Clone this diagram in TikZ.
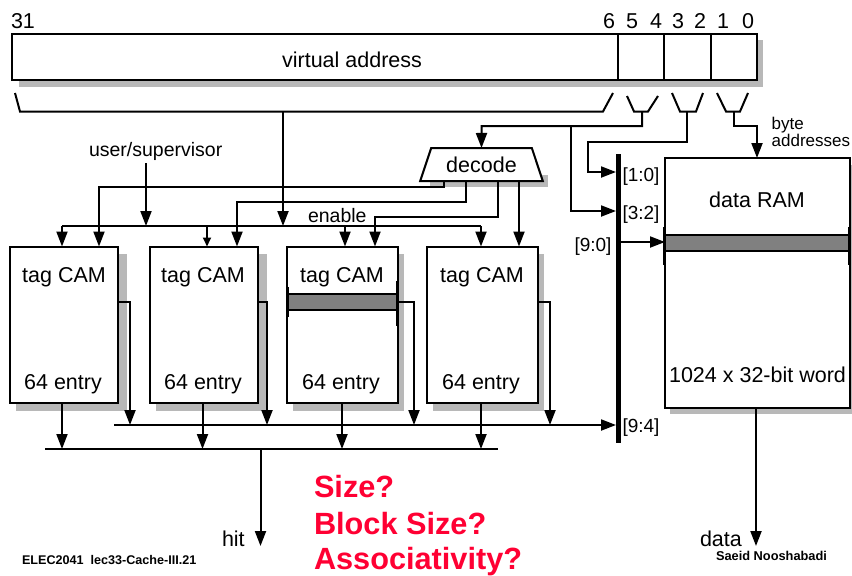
\documentclass[tikz,border=0pt]{standalone}
\usepackage{fontspec}
\setmainfont{Liberation Sans}
\usetikzlibrary{arrows.meta,shapes.geometric}
\definecolor{shade}{HTML}{B8B8B8}
\definecolor{rowgray}{HTML}{808080}
\definecolor{askred}{HTML}{FF0033}
\tikzset{
  wire/.style={line width=2pt,line join=miter},
  arr/.style={wire,-{Triangle[length=15pt,width=11pt]}},
  sarr/.style={wire,-{Triangle[length=9pt,width=8pt]}},
  box/.style={draw,line width=2pt,fill=white,rectangle,anchor=north west,inner sep=0pt,outer sep=0pt},
  camshape/.style={box,minimum width=108pt,minimum height=156.5pt},
  shadow/.style={fill=shade,draw=none},
  row/.style={draw,line width=2pt,fill=rowgray},
  tick/.style={line width=3pt},
  txt/.style={inner sep=0pt,outer sep=0pt,anchor=base,font=\fontsize{21.5}{24}\selectfont},
  lab/.style={inner sep=0pt,outer sep=0pt,anchor=base west,font=\fontsize{19.5}{24}\selectfont},
  brk/.style={inner sep=0pt,outer sep=0pt,anchor=base west,font=\fontsize{19}{22}\selectfont},
  foot/.style={inner sep=0pt,outer sep=0pt,anchor=base west,font=\bfseries\fontsize{12.6}{14}\selectfont},
  ask/.style={inner sep=0pt,outer sep=0pt,anchor=base west,text=askred,font=\bfseries\fontsize{30.7}{34}\selectfont},
}
\begin{document}
\begin{tikzpicture}[x=1pt,y=-1pt]
\path[use as bounding box] (0,0) rectangle (852,576);
% shadows
\fill[shadow] (19,40) rectangle (763,87);
\foreach \xa in {10,150,287,427}{
  \fill[shadow] (\xa+6,254) rectangle (\xa+116.5,411);
}
\fill[shadow] (670,165) rectangle (857,414);
% virtual address register
\node[box,minimum width=745pt,minimum height=46pt] (va) at (12,34) {};
\node[txt] (vatext) at (352,67) {virtual address};
\coordinate (d6t) at (618,34); \coordinate (d6b) at (618,80);
\coordinate (d4t) at (664,34); \coordinate (d4b) at (664,80);
\coordinate (d2t) at (711,34); \coordinate (d2b) at (711,80);
\draw[wire] (d6t)--(d6b); \draw[wire] (d4t)--(d4b); \draw[wire] (d2t)--(d2b);
\node[txt,anchor=base west] (b31) at (11,28) {31};
\node[txt] (b6) at (609,28) {6};
\node[txt] (b5) at (632,28) {5};
\node[txt] (b4) at (656,28) {4};
\node[txt] (b3) at (678,28) {3};
\node[txt] (b2) at (700,28) {2};
\node[txt] (b1) at (723,28) {1};
\node[txt] (b0) at (748,28) {0};
% field brackets
\draw[wire] (15,93)--(20,111.5)--(603,111.5)--(613,93);
\draw[wire] (627,96)--(634,111.5)--(648,111.5)--(658,96);
\draw[wire] (672,93)--(680,111.5)--(696,111.5)--(703,93);
\draw[wire] (717,93)--(726,111.5)--(740,111.5)--(748,93);
\coordinate (tagstem) at (283,111.5);
\coordinate (idxstem) at (642,111.5);
\coordinate (selstem) at (687,111.5);
\coordinate (bytestem) at (734,111.5);
% decode
\fill[shadow] (430,175) rectangle (548,187);
\node[draw,line width=2pt,fill=white,trapezium,trapezium stretches=true,trapezium angle=64,
  minimum width=123pt,minimum height=33pt,inner sep=0pt,outer sep=0pt,
  font=\fontsize{21.5}{24}\selectfont] (dec) at (481.5,164.5) {\raisebox{-1pt}{decode}};
% tag CAMs
\node[camshape] (cam1) at (10,246.5) {};
\node[camshape] (cam2) at (150,246.5) {};
\node[camshape,minimum width=111pt] (cam3) at (287,246.5) {};
\node[camshape,minimum width=111pt] (cam4) at (427,246.5) {};
\node[txt] (tc1) at (64,282) {tag CAM};
\node[txt] (tc2) at (203,282) {tag CAM};
\node[txt] (tc3) at (342,282) {tag CAM};
\node[txt] (tc4) at (482,282) {tag CAM};
\node[txt] (en1) at (63,389) {64 entry};
\node[txt] (en2) at (203,389) {64 entry};
\node[txt] (en3) at (341,389) {64 entry};
\node[txt] (en4) at (481,389) {64 entry};
\draw[row] (287,294) rectangle (398,310);
\draw[tick] (287,287)--(287,317);
\draw[tick] (397.5,281)--(397.5,326);
% data RAM
\node[box,minimum width=185pt,minimum height=249.5pt] (ram) at (665,158) {};
\node[txt] (ramt) at (757,207) {data RAM};
\node[txt] (ramw) at (757.5,382) {1024 x 32-bit word};
\draw[row] (665,235) rectangle (850,251);
\draw[tick] (664.5,227)--(664.5,265);
\draw[tick] (849.5,227)--(849.5,265);
% bus
\fill (616,154) rectangle (621,443);
\coordinate (bus10) at (616,172);
\coordinate (bus32) at (616,211);
\coordinate (bus90) at (621,242);
\coordinate (bus94) at (616,425);
% address wires
\draw[arr] (idxstem)--(642,126)--(481.5,126)--(dec.north);
\coordinate (j1) at (571,126);
\draw[arr] (j1)--(571,211)--(bus32);
\draw[arr] (selstem)--(687,142)--(588,142)--(588,172)--(bus10);
\draw[arr] (bytestem)--(734,126)--(757,126)--(757,158);
\coordinate (ramin) at (665,242);
\draw[arr] (bus90)--(ramin);
% enable bus
\coordinate (enL) at (62,226); \coordinate (enR) at (481,226);
\draw[wire] (enL)--(enR);
\draw[arr] (tagstem)--(283,226);
\coordinate (us) at (146,163);
\draw[arr] (us)--(146,226);
\draw[arr] (enL)--(62,246.5);
\draw[sarr] (207,226)--(207,246.5);
\draw[arr] (345,226)--(345,246.5);
\draw[arr] (enR)--(481,246.5);
% decode outputs
\coordinate (o1) at (444,181); \coordinate (o2) at (466,181);
\coordinate (o3) at (498,181); \coordinate (o4) at (519,181);
\draw[arr] (o1)--(444,187)--(99,187)--(99,246.5);
\draw[arr] (o2)--(466,202)--(237,202)--(237,246.5);
\draw[arr] (o3)--(498,217)--(375,217)--(375,246.5);
\draw[arr] (o4)--(519,246.5);
% tag match bus
\coordinate (mL) at (114,425);
\draw[arr] (mL)--(bus94);
\draw[arr] (118,302)--(130,302)--(130,425);
\draw[arr] (258,302)--(267,302)--(267,425);
\draw[arr] (398,302)--(414,302)--(414,425);
\draw[arr] (538,302)--(550,302)--(550,425);
% hit bus
\coordinate (hL) at (45,449); \coordinate (hR) at (498,449);
\draw[wire] (hL)--(hR);
\draw[arr] (62,403)--(62,449);
\draw[arr] (202.5,403)--(202.5,449);
\draw[arr] (342,403)--(342,449);
\draw[arr] (481,403)--(481,449);
\coordinate (hitend) at (260.5,546);
\draw[arr] (260.5,449)--(hitend);
\coordinate (dataend) at (756,546);
\draw[arr] (756,407.5)--(dataend);
% labels
\node[lab] (usr) at (89,156) {user/supervisor};
\node[lab] (enb) at (308,222) {enable};
\node[inner sep=0pt,anchor=base west,font=\fontsize{17}{17}\selectfont] (by1) at (771.5,129) {byte};
\node[inner sep=0pt,anchor=base west,font=\fontsize{17}{17}\selectfont] (by2) at (771.5,146) {addresses};
\node[brk] (l10) at (622.5,181) {[1:0]};
\node[brk] (l32) at (622.5,219) {[3:2]};
\node[brk] (l90) at (574.5,251) {[9:0]};
\node[brk] (l94) at (622.5,432) {[9:4]};
\node[txt,anchor=base west] (hit) at (222,546.5) {hit};
\node[txt,anchor=base west] (data) at (700,546) {data};
\node[foot] (f1) at (22,564) {ELEC2041\ \ lec33-Cache-III.21};
\node[foot,font=\bfseries\fontsize{12.8}{14}\selectfont] (f2) at (716,560) {Saeid Nooshabadi};
\node[ask] (q1) at (314,497.5) {Size?};
\node[ask] (q2) at (314,534) {Block Size?};
\node[ask] (q3) at (314,569.5) {Associativity?};
\end{tikzpicture}
\end{document}
